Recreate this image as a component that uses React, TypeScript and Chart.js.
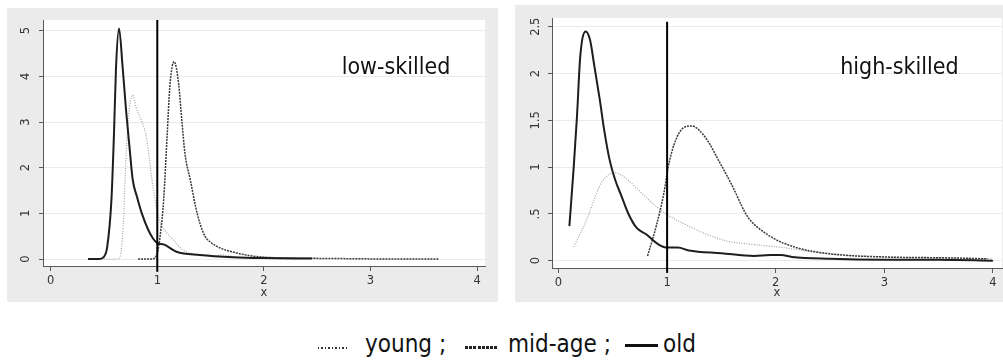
import React, { useEffect, useRef } from 'react';
import Chart from 'chart.js/auto';

// ---------- data ----------
const xTicks = [0, 1, 2, 3, 4];
const xTickLabels = ['0', '1', '2', '3', '4'];
const cutoff = 1;

const lowYTicks = [0, 1, 2, 3, 4, 5];
const lowYTickLabels = ['0', '1', '2', '3', '4', '5'];
const highYTicks = [0, 0.5, 1, 1.5, 2, 2.5];
const highYTickLabels = ['0', '.5', '1', '1.5', '2', '2.5'];

// low-skilled
const lowYoungX = [0.50, 0.62, 0.65, 0.68, 0.71, 0.74, 0.77, 0.80, 0.85, 0.89, 0.92, 0.95, 0.98, 1.01, 1.07, 1.15, 1.24, 1.37, 1.53, 1.59, 1.75, 2.00, 2.50];
const lowYoungY = [0, 0, 0.05, 0.71, 2.38, 3.33, 3.59, 3.33, 3.04, 2.75, 2.31, 1.73, 1.30, 0.93, 0.63, 0.42, 0.20, 0.10, 0.06, 0.09, 0.04, 0.02, 0.01];
const lowMidX = [0.82, 0.95, 1.00, 1.03, 1.06, 1.09, 1.12, 1.158, 1.20, 1.23, 1.26, 1.31, 1.36, 1.40, 1.45, 1.51, 1.59, 1.70, 1.85, 2.00, 2.30, 2.70, 3.20, 3.64];
const lowMidY = [0, 0, 0.13, 0.57, 1.30, 2.60, 3.84, 4.32, 3.84, 3.04, 2.30, 1.73, 1.14, 0.78, 0.49, 0.35, 0.24, 0.16, 0.08, 0.04, 0.02, 0.01, 0, 0];
const lowOldX = [0.35, 0.46, 0.50, 0.53, 0.57, 0.594, 0.613, 0.641, 0.675, 0.707, 0.739, 0.77, 0.81, 0.855, 0.917, 0.96, 1.00, 1.06, 1.18, 1.40, 1.71, 2.00, 2.45];
const lowOldY = [0, 0, 0.05, 0.26, 1.30, 2.76, 4.20, 5.05, 4.20, 3.26, 2.46, 1.73, 1.36, 1.00, 0.63, 0.45, 0.35, 0.32, 0.16, 0.09, 0.04, 0.02, 0.01];

// high-skilled
const highYoungX = [0.14, 0.26, 0.35, 0.41, 0.52, 0.62, 0.75, 0.87, 0.99, 1.18, 1.37, 1.55, 1.74, 2.07, 2.50, 3.00, 3.50, 4.00];
const highYoungY = [0.15, 0.44, 0.72, 0.86, 0.94, 0.88, 0.74, 0.61, 0.50, 0.38, 0.28, 0.21, 0.18, 0.14, 0.07, 0.04, 0.03, 0.02];
const highMidX = [0.82, 0.90, 0.97, 1.01, 1.07, 1.15, 1.225, 1.29, 1.38, 1.47, 1.60, 1.72, 1.76, 1.95, 2.19, 2.53, 3.00, 3.60, 3.95];
const highMidY = [0.05, 0.37, 0.72, 1.00, 1.26, 1.42, 1.44, 1.40, 1.27, 1.08, 0.80, 0.51, 0.44, 0.26, 0.14, 0.07, 0.04, 0.03, 0.02];
const highOldX = [0.10, 0.14, 0.17, 0.20, 0.25, 0.29, 0.33, 0.38, 0.42, 0.47, 0.52, 0.58, 0.64, 0.72, 0.81, 0.90, 0.99, 1.10, 1.20, 1.50, 1.80, 1.95, 2.05, 2.15, 2.50, 3.00, 3.50, 4.00];
const highOldY = [0.37, 1.00, 1.54, 2.18, 2.45, 2.36, 2.08, 1.72, 1.40, 1.08, 0.87, 0.69, 0.51, 0.35, 0.28, 0.19, 0.14, 0.14, 0.11, 0.08, 0.05, 0.06, 0.06, 0.04, 0.02, 0.01, 0.01, 0];

const legendLabels = ['young ;', 'mid-age ;', 'old'];

// ---------- styling ----------
const PANEL_BG = '#ebebeb';
const GRID = '#e3ecee';
const AXIS = '#5a5a5a';
const TICK_FONT = { family: '"DejaVu Sans", sans-serif', size: 11.5 };
const TICK_FONT_CSS = '11.5px "DejaVu Sans", sans-serif';
const LABEL_FONT = '23px "DejaVu Sans Condensed", "DejaVu Sans", sans-serif';

const pts = (xs: number[], ys: number[]) => xs.map((x, i) => ({ x, y: ys[i] }));

const bgPlugin = {
  id: 'panelBg',
  beforeDraw(chart: any) {
    const { ctx, chartArea: a, width, height } = chart;
    ctx.save();
    ctx.fillStyle = PANEL_BG;
    ctx.fillRect(0, 0, width, height);
    ctx.fillStyle = '#ffffff';
    ctx.fillRect(a.left, a.top, a.right - a.left, a.bottom - a.top);
    ctx.restore();
  },
};

// panel caption + rotated y tick labels (Stata style)
const labelPlugin = {
  id: 'panelLabel',
  afterDraw(chart: any, _args: any, opts: any) {
    const { ctx, scales } = chart;
    ctx.save();
    ctx.font = LABEL_FONT;
    ctx.fillStyle = '#111';
    ctx.textAlign = 'left';
    ctx.textBaseline = 'alphabetic';
    ctx.fillText(opts.text, scales.x.getPixelForValue(opts.x), scales.y.getPixelForValue(opts.y));

    const y = scales.y;
    ctx.font = TICK_FONT_CSS;
    ctx.fillStyle = '#333';
    ctx.textAlign = 'center';
    ctx.textBaseline = 'middle';
    const lx = y.right - opts.yLabelGap;
    opts.yTicks.forEach((v: number, i: number) => {
      ctx.save();
      ctx.translate(lx, y.getPixelForValue(v));
      ctx.rotate(-Math.PI / 2);
      ctx.fillText(opts.yLabels[i], 0, 0);
      ctx.restore();
    });
    ctx.restore();
  },
};

type Spec = {
  left: number; top: number; width: number; height: number;
  padTop: number; padRight: number; yAxisW: number; xAxisH: number;
  xMin: number; xMax: number; yMin: number; yMax: number;
  yTicks: number[]; yLabels: string[]; yLabelGap: number;
  vBottom: number; vTop: number;
  youngX: number[]; youngY: number[]; midX: number[]; midY: number[]; oldX: number[]; oldY: number[];
  title: string; titleX: number; titleY: number;
};

function makeConfig(s: Spec): any {
  return {
    type: 'line',
    data: {
      datasets: [
        {
          label: 'cutoff', data: [{ x: cutoff, y: s.vBottom }, { x: cutoff, y: s.vTop }],
          borderColor: '#000', borderWidth: 2, pointRadius: 0, tension: 0, clip: false, order: 0,
        },
        {
          label: 'old', data: pts(s.oldX, s.oldY), borderColor: '#1e1e1e', borderWidth: 2,
          pointRadius: 0, cubicInterpolationMode: 'monotone', order: 1,
        },
        {
          label: 'mid-age', data: pts(s.midX, s.midY), borderColor: '#3a3a3a', borderWidth: 1.5,
          borderDash: [2, 1], pointRadius: 0, cubicInterpolationMode: 'monotone', order: 2,
        },
        {
          label: 'young', data: pts(s.youngX, s.youngY), borderColor: '#a3a3a3', borderWidth: 1.2,
          borderDash: [1, 1.5], pointRadius: 0, cubicInterpolationMode: 'monotone', order: 3,
        },
      ],
    },
    options: {
      responsive: false,
      animation: false,
      devicePixelRatio: 1,
      layout: { padding: { left: 0, top: s.padTop, right: s.padRight, bottom: 0 } },
      plugins: {
        legend: { display: false },
        tooltip: { enabled: false },
        panelLabel: { text: s.title, x: s.titleX, y: s.titleY, yTicks: s.yTicks, yLabels: s.yLabels, yLabelGap: s.yLabelGap },
      },
      scales: {
        x: {
          type: 'linear', min: s.xMin, max: s.xMax,
          afterBuildTicks: (sc: any) => { sc.ticks = xTicks.map((v) => ({ value: v })); },
          afterFit: (sc: any) => { sc.height = s.xAxisH; },
          grid: { display: true, drawOnChartArea: false, drawTicks: true, tickLength: 5, color: AXIS },
          border: { display: true, color: AXIS, width: 1 },
          ticks: {
            font: TICK_FONT, color: '#333', padding: 3, maxRotation: 0, minRotation: 0, autoSkip: false,
            callback: (_v: any, i: number) => xTickLabels[i],
          },
          title: { display: true, text: 'x', font: TICK_FONT, color: '#333', padding: { top: 0, bottom: 2 } },
        },
        y: {
          type: 'linear', min: s.yMin, max: s.yMax,
          afterBuildTicks: (sc: any) => { sc.ticks = s.yTicks.map((v) => ({ value: v })); },
          afterFit: (sc: any) => { sc.width = s.yAxisW; },
          grid: { color: GRID, tickColor: AXIS, drawTicks: true, tickLength: 4 },
          border: { display: true, color: AXIS, width: 1 },
          ticks: { display: false },
        },
      },
    },
    plugins: [bgPlugin, labelPlugin],
  };
}

const lowSpec: Spec = {
  left: 7, top: 8, width: 491, height: 294,
  padTop: 12, padRight: 13, yAxisW: 36, xAxisH: 36,
  xMin: -0.072, xMax: 4.074, yMin: -0.153, yMax: 5.234,
  yTicks: lowYTicks, yLabels: lowYTickLabels, yLabelGap: 17,
  vBottom: -0.28, vTop: 5.234,
  youngX: lowYoungX, youngY: lowYoungY, midX: lowMidX, midY: lowMidY, oldX: lowOldX, oldY: lowOldY,
  title: 'low-skilled', titleX: 2.73, titleY: 4.05,
};

const highSpec: Spec = {
  left: 515, top: 5, width: 488, height: 297,
  padTop: 13, padRight: 1, yAxisW: 37, xAxisH: 34,
  xMin: -0.06, xMax: 4.084, yMin: -0.078, yMax: 2.593,
  yTicks: highYTicks, yLabels: highYTickLabels, yLabelGap: 16,
  vBottom: -0.13, vTop: 2.553,
  youngX: highYoungX, youngY: highYoungY, midX: highMidX, midY: highMidY, oldX: highOldX, oldY: highOldY,
  title: 'high-skilled', titleX: 2.594, titleY: 1.995,
};

function Panel({ spec }: { spec: Spec }) {
  const ref = useRef<HTMLCanvasElement>(null);
  useEffect(() => {
    const chart = new Chart(ref.current as HTMLCanvasElement, makeConfig(spec));
    return () => chart.destroy();
  }, [spec]);
  return (
    <canvas
      ref={ref}
      width={spec.width}
      height={spec.height}
      style={{ position: 'absolute', left: spec.left, top: spec.top, width: spec.width, height: spec.height }}
    />
  );
}

const legendFont: React.CSSProperties = {
  position: 'absolute',
  top: 332,
  fontFamily: '"DejaVu Sans Condensed", "DejaVu Sans", sans-serif',
  fontSize: 24,
  lineHeight: '24px',
  color: '#111',
  whiteSpace: 'nowrap',
};

export default function App() {
  return (
    <div style={{ position: 'absolute', left: 0, top: 0, width: 1003, height: 363, background: '#fff', overflow: 'hidden' }}>
      <Panel spec={lowSpec} />
      <Panel spec={highSpec} />
      {/* legend */}
      <div style={{ position: 'absolute', left: 318, top: 347, width: 29, height: 2,
        background: 'repeating-linear-gradient(to right, #333 0 1.5px, transparent 1.5px 3.5px)' }} />
      <div style={{ ...legendFont, left: 365 }}>{legendLabels[0]}</div>
      <div style={{ position: 'absolute', left: 465, top: 346, width: 32, height: 3,
        background: 'repeating-linear-gradient(to right, #222 0 3px, transparent 3px 4.2px)' }} />
      <div style={{ ...legendFont, left: 508 }}>{legendLabels[1]}</div>
      <div style={{ position: 'absolute', left: 625, top: 344, width: 33, height: 3, background: '#111' }} />
      <div style={{ ...legendFont, left: 663 }}>{legendLabels[2]}</div>
    </div>
  );
}
